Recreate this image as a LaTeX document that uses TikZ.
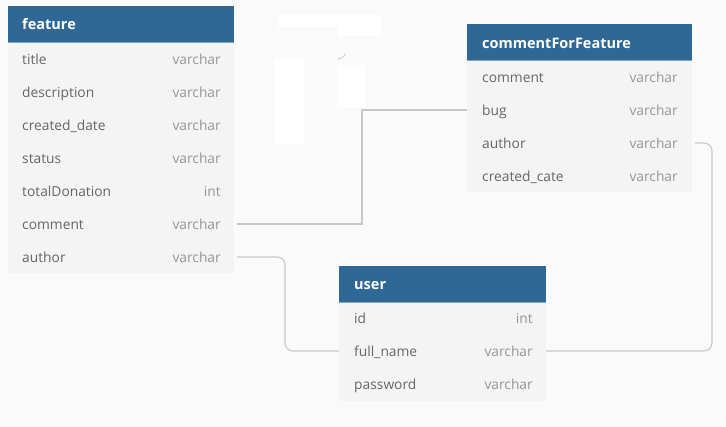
\documentclass[tikz,border=0pt]{standalone}
\usepackage{fontspec}
\setmainfont{Open Sans}
\usetikzlibrary{calc}
\definecolor{bg}{HTML}{FAFAFA}
\definecolor{hdrblue}{HTML}{2F6795}
\definecolor{hdrline}{HTML}{7FA6C8}
\definecolor{bodyfill}{HTML}{F4F4F4}
\definecolor{namecol}{HTML}{666666}
\definecolor{typecol}{HTML}{969696}
\definecolor{linecol}{HTML}{C8C8C8}
\begin{document}
\begin{tikzpicture}[x=1pt,y=-1pt,
  box/.style={draw=none,inner sep=0pt,outer sep=0pt,anchor=north west},
  hdr/.style={box,fill=hdrblue},
  tbody/.style={box,fill=bodyfill},
  title/.style={anchor=west,inner sep=0pt,text height=14.5pt,text depth=2.5pt,text=white,font=\fontsize{14.5}{16}\selectfont\bfseries},
  fname/.style={anchor=west,inner sep=0pt,text height=12pt,text depth=1.5pt,text=namecol,font=\fontsize{13.8}{16}\selectfont},
  ftype/.style={anchor=east,inner sep=0pt,text height=12pt,text depth=1.5pt,text=typecol,font=\fontsize{13.8}{16}\selectfont},
  conn/.style={draw=linecol,line width=1.1pt},
  blot/.style={fill=white,draw=none}]
\useasboundingbox[fill=bg] (0,0) rectangle (726,427);

% white blots
\fill[blot] (278,15) rectangle (381,27);
\fill[blot] (338,27) rectangle (381,36);
\fill[blot] (275,58) rectangle (304,144);
\fill[blot] (337,65) rectangle (366,108);
\draw[linecol,line width=0.8pt] (338,59) arc[start angle=90,end angle=20,radius=8];

% ---------- feature ----------
\node[tbody,minimum width=226pt,minimum height=231pt] (fbody) at (8,42) {};
\node[hdr,minimum width=226pt,minimum height=36pt] (fhdr) at (8,6) {};
\draw[hdrline,line width=0.8pt] (fhdr.south west) -- (fhdr.south east);
\node[title] (ft) at (22,24) {feature};
\node[fname] (f1) at (22,59) {title};
\node[ftype] (f1t) at (221,59) {varchar};
\node[fname] (f2) at (22,92) {description};
\node[ftype] (f2t) at (221,92) {varchar};
\node[fname] (f3) at (22,125) {created\_date};
\node[ftype] (f3t) at (221,125) {varchar};
\node[fname] (f4) at (22,158) {status};
\node[ftype] (f4t) at (221,158) {varchar};
\node[fname] (f5) at (22,191) {totalDonation};
\node[ftype] (f5t) at (221,191) {int};
\node[fname] (f6) at (22,224) {comment};
\node[ftype] (f6t) at (221,224) {varchar};
\node[fname] (f7) at (22,257) {author};
\node[ftype] (f7t) at (221,257) {varchar};

% ---------- commentForFeature ----------
\node[tbody,minimum width=225pt,minimum height=132pt] (cbody) at (467,60) {};
\node[hdr,minimum width=225pt,minimum height=36pt] (chdr) at (467,24) {};
\draw[hdrline,line width=0.8pt] (chdr.south west) -- (chdr.south east);
\node[title] (ct) at (482,43) {commentForFeature};
\node[fname] (c1) at (482,77) {comment};
\node[ftype] (c1t) at (678,77) {varchar};
\node[fname] (c2) at (482,110) {bug};
\node[ftype] (c2t) at (678,110) {varchar};
\node[fname] (c3) at (482,143) {author};
\node[ftype] (c3t) at (678,143) {varchar};
\node[fname] (c4) at (482,176) {created\_cate};
\node[ftype] (c4t) at (678,176) {varchar};

% ---------- user ----------
\node[tbody,minimum width=207pt,minimum height=99pt] (ubody) at (339,302) {};
\node[hdr,minimum width=207pt,minimum height=36pt] (uhdr) at (339,266) {};
\draw[hdrline,line width=0.8pt] (uhdr.south west) -- (uhdr.south east);
\node[title] (ut) at (354,284) {user};
\node[fname] (u1) at (354,318) {id};
\node[ftype] (u1t) at (533,318) {int};
\node[fname] (u2) at (354,351) {full\_name};
\node[ftype] (u2t) at (533,351) {varchar};
\node[fname] (u3) at (354,384) {password};
\node[ftype] (u3t) at (533,384) {varchar};

% ---------- connectors ----------
\draw[conn] ($(f6t.center -| fbody.east)+(3,0)$) -- ++(125,0) |- (c2.center -| cbody.west);
\draw[conn,rounded corners=8pt] ($(f7t.center -| fbody.east)+(3,0)$) -- ++(48,0) |- (u2.center -| ubody.west);
\draw[conn,rounded corners=8pt] ($(c3t.center -| cbody.east)+(3,0)$) -- ++(17,0) |- (u2t.center -| ubody.east);
\end{tikzpicture}
\end{document}
